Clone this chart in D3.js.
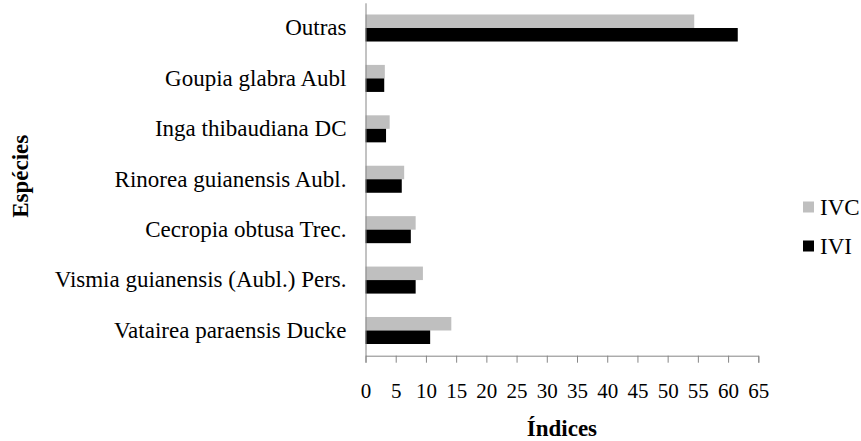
<!DOCTYPE html>
<html>
<head>
<meta charset="utf-8">
<script src="https://cdn.jsdelivr.net/npm/d3@7"></script>
<style>
  html, body { margin: 0; padding: 0; background: #fff; }
</style>
</head>
<body>
<svg id="chart" width="861" height="441"></svg>
<script>
const categories = [
  "Outras",
  "Goupia glabra Aubl",
  "Inga thibaudiana DC",
  "Rinorea guianensis Aubl.",
  "Cecropia obtusa Trec.",
  "Vismia guianensis (Aubl.) Pers.",
  "Vatairea paraensis Ducke"
];
const seriesNames = ["IVC", "IVI"];
const ivc = [54.4, 3.2, 4.0, 6.4, 8.3, 9.5, 14.2];
const ivi = [61.6, 3.1, 3.4, 6.0, 7.5, 8.3, 10.7];
const xTicks = [0, 5, 10, 15, 20, 25, 30, 35, 40, 45, 50, 55, 60, 65];
const colors = { IVC: "#bfbfbf", IVI: "#000000" };

const FONT = "Liberation Serif";

const svg = d3.select("#chart");
svg.append("rect").attr("width", 861).attr("height", 441).attr("fill", "#fff");

const x = d3.scaleLinear().domain([0, 65]).range([365.5, 758.3]);
const y = d3.scaleBand().domain(categories).range([2.8, 355.7])
  .paddingInner(0.464).paddingOuter(0.232);
const ySub = d3.scaleBand().domain(seriesNames).range([0, y.bandwidth()]);

const data = categories.map((c, i) => ({ cat: c, IVC: ivc[i], IVI: ivi[i] }));

// bars
const g = svg.append("g");
data.forEach(d => {
  seriesNames.forEach(s => {
    g.append("rect")
      .attr("x", x(0))
      .attr("y", y(d.cat) + ySub(s))
      .attr("width", x(d[s]) - x(0))
      .attr("height", ySub.bandwidth())
      .attr("fill", colors[s]);
  });
});

// x axis
const xAxis = svg.append("g")
  .attr("transform", "translate(0,355.7)")
  .call(d3.axisBottom(x).tickValues(xTicks).tickSize(7).tickSizeOuter(7).tickPadding(20));
xAxis.attr("font-family", FONT);
xAxis.selectAll("path, line").attr("stroke", "#868686");
xAxis.selectAll("text").attr("fill", "#000").attr("font-size", "21px");

// y axis
const yAxis = svg.append("g")
  .attr("transform", "translate(365.5,0)")
  .call(d3.axisLeft(y).tickSize(0).tickSizeOuter(0).tickPadding(19));
yAxis.attr("font-family", FONT);
yAxis.selectAll("path").attr("stroke", "#868686");
yAxis.selectAll("text").attr("fill", "#000").attr("font-size", "23px");

// axis titles
svg.append("text")
  .attr("x", (x.range()[0] + x.range()[1]) / 2)
  .attr("y", 436)
  .attr("text-anchor", "middle")
  .attr("font-family", FONT)
  .attr("font-weight", "bold")
  .attr("font-size", "23px")
  .text("Índices");

svg.append("text")
  .attr("transform", `translate(28,${(y.range()[0] + y.range()[1]) / 2 - 3}) rotate(-90)`)
  .attr("text-anchor", "middle")
  .attr("font-family", FONT)
  .attr("font-weight", "bold")
  .attr("font-size", "23px")
  .text("Espécies");

// legend
const legendY = { IVC: 207, IVI: 246 };
seriesNames.forEach(s => {
  const lg = svg.append("g").attr("transform", `translate(803,${legendY[s]})`);
  lg.append("rect").attr("x", 0).attr("y", -5.5).attr("width", 11).attr("height", 11)
    .attr("fill", colors[s]);
  lg.append("text").attr("x", 17).attr("y", 0).attr("dy", "0.35em")
    .attr("font-family", FONT)
    .attr("font-size", "23px").text(s);
});
</script>
</body>
</html>
